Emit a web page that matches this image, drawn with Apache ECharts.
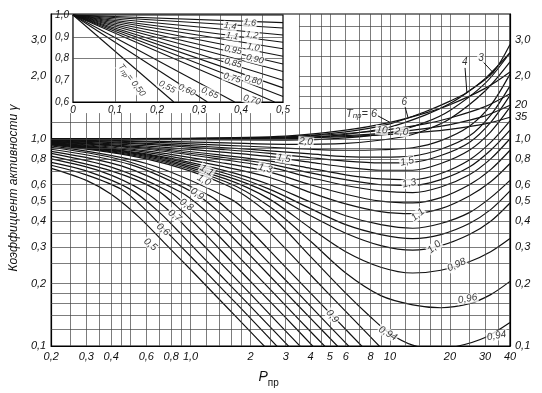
<!DOCTYPE html>
<html><head><meta charset="utf-8">
<script src="https://cdn.jsdelivr.net/npm/echarts@6/dist/echarts.min.js"></script>
<style>html,body{margin:0;padding:0;background:#fff}#c{width:542px;height:393px}</style>
</head><body><div id="c"></div><script>
// ---- tick labels ----
const xTickValues = [0.2,0.3,0.4,0.6,0.8,1,2,3,4,5,6,8,10,20,30,40];
const xTickLabels = ['0,2','0,3','0,4','0,6','0,8','1,0','2','3','4','5','6','8','10','20','30','40'];
const yTickValues = [0.1,0.2,0.3,0.4,0.5,0.6,0.8,1,2,3];
const yTickLabels = ['0,1','0,2','0,3','0,4','0,5','0,6','0,8','1,0','2,0','3,0'];
const rightCurveValues = [1.27,1.45];
const rightCurveLabels = ['35','20'];
const xGrid = [0.25,0.3,0.35,0.4,0.45,0.5,0.6,0.7,0.8,0.9,1,1.2,1.4,1.6,1.8,2,2.5,3,3.5,4,4.5,5,6,7,8,9,10,12,14,16,18,20,25,30,35];
const yGrid = [0.12,0.14,0.16,0.18,0.2,0.25,0.3,0.35,0.4,0.45,0.5,0.6,0.7,0.8,0.9,1,1.2,1.4,1.6,1.8,2,2.5,3,3.5];

// ---- main chart curves: [P_пр, γ] ----
const T050 = [[0.2,0.72],[0.3,0.63],[0.4,0.54],[0.55,0.42],[0.75,0.31],[1,0.234],[1.5,0.156],[2,0.117],[2.6,0.09]];
const T055 = [[0.2,0.745],[0.3,0.67],[0.45,0.57],[0.6,0.45],[0.8,0.338],[1,0.271],[1.5,0.181],[2,0.136],[3,0.09]];
const T060 = [[0.2,0.77],[0.3,0.70],[0.5,0.57],[0.7,0.44],[0.9,0.345],[1.2,0.258],[1.6,0.194],[2.2,0.141],[3.4,0.091]];
const T065 = [[0.2,0.80],[0.35,0.70],[0.58,0.56],[0.8,0.44],[1,0.355],[1.4,0.254],[2,0.178],[3,0.118],[3.8,0.093]];
const T070 = [[0.2,0.825],[0.4,0.70],[0.67,0.57],[0.9,0.45],[1.2,0.342],[1.6,0.256],[2.2,0.186],[3,0.137],[4.4,0.093]];
const T075 = [[0.2,0.85],[0.4,0.73],[0.77,0.56],[1,0.46],[1.3,0.362],[1.8,0.261],[2.5,0.188],[3.5,0.134],[5,0.094]];
const T080 = [[0.2,0.87],[0.45,0.74],[0.9,0.55],[1.2,0.445],[1.5,0.362],[2,0.272],[3,0.181],[4,0.136],[5.8,0.094]];
const T085 = [[0.2,0.89],[0.5,0.75],[1.05,0.545],[1.4,0.44],[1.8,0.346],[2.5,0.249],[3.5,0.178],[5,0.124],[6.6,0.094]];
const T090 = [[0.2,0.91],[0.5,0.77],[1.25,0.53],[1.6,0.44],[2,0.36],[2.8,0.257],[4,0.18],[5.5,0.131],[7.6,0.095]];
const T092 = [[0.2,0.925],[0.6,0.76],[1.6,0.51],[2,0.43],[2.6,0.339],[3.5,0.252],[5,0.176],[7,0.126],[9.3,0.095]];
const T094 = [[0.2,0.935],[0.6,0.80],[1.5,0.60],[2.5,0.43],[4,0.27],[6,0.18],[8,0.138],[10,0.115],[13,0.101],[17,0.097],[22,0.1],[30,0.11],[40,0.13]];
const T096 = [[0.2,0.94],[0.6,0.81],[1.5,0.62],[2.5,0.47],[4,0.32],[6,0.225],[9,0.175],[13,0.158],[18,0.153],[25,0.16],[32,0.177],[40,0.205]];
const T098 = [[0.2,0.945],[0.6,0.82],[1.5,0.64],[2.5,0.51],[4,0.37],[6,0.285],[9,0.24],[13,0.225],[18,0.232],[25,0.255],[32,0.285],[40,0.33]];
const T100 = [[0.2,0.95],[0.6,0.83],[1.5,0.66],[2.5,0.545],[4,0.425],[6,0.35],[9,0.305],[13,0.29],[18,0.305],[25,0.345],[32,0.4],[40,0.49]];
const T102 = [[0.2,0.952],[0.6,0.838],[1.5,0.68],[2.5,0.57],[4,0.46],[6,0.385],[9,0.345],[13,0.33],[18,0.345],[25,0.39],[32,0.455],[40,0.56]];
const T105 = [[0.2,0.955],[0.6,0.845],[1.5,0.70],[2.5,0.60],[4,0.495],[6,0.425],[9,0.385],[13,0.37],[18,0.39],[25,0.44],[32,0.52],[40,0.63]];
const T110 = [[0.2,0.96],[0.6,0.86],[1.5,0.73],[2.5,0.65],[4,0.55],[6,0.485],[9,0.445],[13,0.435],[18,0.46],[25,0.53],[32,0.62],[40,0.76]];
const T115 = [[0.2,0.965],[0.6,0.875],[1.5,0.76],[2.5,0.69],[4,0.60],[6,0.54],[9,0.50],[13,0.49],[18,0.52],[25,0.60],[32,0.71],[40,0.88]];
const T120 = [[0.2,0.97],[0.6,0.89],[1.5,0.79],[2.5,0.73],[4,0.65],[6,0.595],[9,0.56],[13,0.55],[18,0.585],[25,0.67],[32,0.80],[40,1.0]];
const T125 = [[0.2,0.972],[0.6,0.90],[1.5,0.81],[2.5,0.755],[4,0.685],[6,0.635],[9,0.60],[13,0.595],[18,0.635],[25,0.73],[32,0.88],[40,1.1]];
const T130 = [[0.2,0.975],[0.6,0.91],[1.5,0.83],[2.5,0.78],[4,0.72],[6,0.67],[9,0.64],[13,0.635],[18,0.68],[25,0.79],[32,0.96],[40,1.22]];
const T140 = [[0.2,0.98],[0.6,0.925],[1.5,0.86],[2.5,0.82],[4,0.77],[6,0.73],[9,0.705],[13,0.705],[18,0.76],[25,0.88],[32,1.08],[40,1.42]];
const T150 = [[0.2,0.985],[0.6,0.94],[1.5,0.885],[2.5,0.85],[4,0.81],[6,0.78],[9,0.765],[13,0.77],[18,0.83],[25,0.96],[32,1.2],[40,1.62]];
const T160 = [[0.2,0.988],[0.6,0.95],[1.5,0.905],[2.5,0.875],[4,0.845],[6,0.82],[9,0.815],[13,0.825],[18,0.89],[25,1.03],[32,1.3],[40,1.8]];
const T180 = [[0.2,0.99],[0.6,0.965],[1.5,0.93],[2.5,0.91],[4,0.89],[6,0.88],[9,0.885],[13,0.905],[18,0.98],[25,1.15],[32,1.45],[40,2.05]];
const T200 = [[0.2,0.995],[0.6,0.975],[1.5,0.955],[3,0.94],[6,0.95],[11.5,1.02],[15,1.1],[20,1.25],[30,1.7],[40,2.35]];
const T250 = [[0.2,0.998],[1,0.99],[3,0.985],[6,1.01],[10,1.07],[15,1.2],[20,1.37],[30,1.85],[40,2.6]];
const T300 = [[0.2,1.0],[1,0.998],[3,1.0],[6,1.05],[10,1.14],[15,1.3],[20,1.48],[25,1.7],[33,2.1],[40,2.85]];
const T400 = [[0.2,1.0],[1,1.002],[3,1.02],[6,1.08],[10,1.18],[15,1.35],[20,1.52],[24,1.66],[30,1.95],[40,2.6]];
const T600 = [[0.2,1.0],[1,1.005],[3,1.03],[6,1.1],[10,1.2],[15,1.33],[20,1.46],[30,1.75],[40,2.1]];
const T1000 = [[0.2,1.0],[1,1.004],[3,1.02],[6,1.06],[10,1.11],[15,1.18],[20,1.26],[30,1.43],[40,1.65]];
const T2000 = [[0.2,1.0],[1,1.003],[3,1.012],[6,1.035],[10,1.07],[15,1.12],[20,1.17],[30,1.29],[40,1.45]];
const T3500 = [[0.2,1.0],[1,1.002],[3,1.008],[6,1.025],[10,1.05],[15,1.08],[20,1.11],[30,1.18],[40,1.27]];

// ---- inset: straight lines from (0, 1.0) ----
const insetStart = [0, 1.0];
const insetNames = ['0,50','0,55','0,60','0,65','0,70','0,75','0,80','0,85','0,90','0,95','1,0','1,1','1,2','1,4','1,6'];
const insetEnds = [[0.24,0.6],[0.32,0.6],[0.385,0.6],[0.48,0.6],[0.5,0.625],[0.5,0.665],[0.5,0.70],[0.5,0.74],[0.5,0.775],[0.5,0.81],[0.5,0.845],[0.5,0.875],[0.5,0.908],[0.5,0.94],[0.5,0.965]];

// ---- curve labels: [P, γ, text, rotate] ----
const mainLabels = [
  [0.629,0.309,'0,5',-40],[0.728,0.365,'0,6',-40],[0.833,0.425,'0,7',-38],[0.953,0.48,'0,8',-35],
  [1.078,0.541,'0,9',-35],[1.167,0.631,'1,0',-30],[1.206,0.704,'1,1',-30],
  [2.37,0.72,'1,3',-15],[2.93,0.803,'1,5',-10],[3.79,0.968,'2,0',-5],
  [9.11,1.10,'10',-5],[11.4,1.08,'2,0',-5],[12.2,0.777,'1,5',12],[12.5,0.61,'1,3',12],
  [13.8,0.43,'1,1',40],[16.7,0.30,'1,0',40],[21.6,0.246,'0,98',25],[24.5,0.169,'0,96',10],
  [9.75,0.115,'0,94',-30],[34.3,0.112,'0,94',10],[5.14,0.139,'0,9',-50],
  [11.8,1.5,'6',0],[23.7,2.33,'4',0],[28.6,2.46,'3',0]
];
const tLabel6 = [7.2,1.32];
const leaders = [
  [[8.7,1.29],[10,1.2]],[[11.9,1.43],[12.3,1.27]],[[23.8,2.2],[24.3,1.68]],[[29.2,2.36],[33,2.08]]
];
const insetLabels = [
  [0.421,0.965,'1,6',-8],[0.374,0.949,'1,4',-10],[0.426,0.908,'1,2',-10],[0.379,0.903,'1,1',-10],
  [0.429,0.851,'1,0',-12],[0.381,0.839,'0,95',-12],[0.433,0.797,'0,90',-14],[0.381,0.779,'0,85',-14],
  [0.429,0.70,'0,80',-16],[0.379,0.71,'0,75',-16],[0.426,0.609,'0,70',-16],[0.326,0.641,'0,65',-22],
  [0.271,0.655,'0,60',-25],[0.224,0.669,'0,55',-28]
];
const insetT050 = [0.14,0.70];

const mainCurves = [T050,T055,T060,T065,T070,T075,T080,T085,T090,T092,T094,T096,T098,T100,T102,T105,T110,T115,T120,T125,T130,T140,T150,T160,T180,T200,T250,T300,T400,T600,T1000,T2000,T3500];

// inset occlusion limits (data units)
const insetPmax = 3.5, insetGmin = 1.33;

const FF = '"Liberation Sans", "DejaVu Sans", sans-serif';
function lookup(vals, labs, v){ for(let i=0;i<vals.length;i++){ if(Math.abs(vals[i]-v) < 1e-6*Math.max(1,vals[i])) return labs[i]; } return ''; }
const allRightVals = yTickValues.concat(rightCurveValues);
const allRightLabs = yTickLabels.concat(rightCurveLabels);

const series = [];
mainCurves.forEach(d => series.push({
  type:'line', xAxisIndex:0, yAxisIndex:0, data:d, smooth:0.3, symbol:'none', clip:true,
  lineStyle:{color:'#111', width:1.2}, z:3, silent:true
}));

// main grid lines
const segs = [];
xGrid.forEach(p => segs.push([{coord:[p,0.1001]},{coord:[p, p < insetPmax ? insetGmin : 3.999]}]));
yGrid.forEach(g => segs.push([{coord:[g > insetGmin ? insetPmax : 0.2002, g]},{coord:[39.99, g]}]));
leaders.forEach(l => segs.push([{coord:l[0], lineStyle:{width:1, color:'#111'}},{coord:l[1]}]));
series.push({
  type:'line', xAxisIndex:0, yAxisIndex:0, data:[[0.2002,0.1001]], symbol:'none', z:1,
  markLine:{silent:true, symbol:['none','none'], label:{show:false}, animation:false,
    lineStyle:{color:'#444', width:0.7, type:'solid'}, emphasis:{disabled:true}, data:segs}
});

// main labels
const labStyle = {show:true, position:'inside', fontSize:10, fontStyle:'italic', fontFamily:FF, color:'#000', backgroundColor:'#fff', padding:[0,1]};
series.push({
  type:'scatter', xAxisIndex:0, yAxisIndex:0, symbolSize:1, itemStyle:{color:'rgba(0,0,0,0)'}, z:6, silent:true, clip:false,
  label:labStyle,
  data: mainLabels.map(l => ({value:[l[0],l[1]], label:{formatter:l[2], rotate:l[3]}})).concat([{
    value: tLabel6, label:{formatter:'{t|T}{s|пр}{t|= 6}', rotate:0, backgroundColor:'transparent',
      rich:{t:{fontSize:11, fontStyle:'italic', fontFamily:FF}, s:{fontSize:8, fontFamily:FF, padding:[5,0,0,0]}}}
  }])
});

// inset lines
insetEnds.forEach(e => series.push({
  type:'line', xAxisIndex:1, yAxisIndex:2, data:[insetStart, e], symbol:'none', clip:true,
  lineStyle:{color:'#111', width:1.1}, z:4, silent:true
}));
// inset grid lines
const isegs = [];
[0.1,0.15,0.2,0.25,0.3,0.35,0.4,0.45].forEach(x => isegs.push([{coord:[x,0.6]},{coord:[x,1.0]}]));
[0.9,0.8].forEach(y => isegs.push([{coord:[0,y]},{coord:[0.5,y]}]));
series.push({
  type:'line', xAxisIndex:1, yAxisIndex:2, data:[[0,1]], symbol:'none', z:2,
  markLine:{silent:true, symbol:['none','none'], label:{show:false}, animation:false,
    lineStyle:{color:'#444', width:0.7, type:'solid'}, data:isegs}
});
series.push({
  type:'scatter', xAxisIndex:1, yAxisIndex:2, symbolSize:1, itemStyle:{color:'rgba(0,0,0,0)'}, z:6, silent:true, clip:false,
  label:Object.assign({}, labStyle, {fontSize:9}),
  data: insetLabels.map(l => ({value:[l[0],l[1]], label:{formatter:l[2], rotate:l[3]}})).concat([{
    value: insetT050, label:{formatter:'{t|T}{s|пр}{t|= 0,50}', rotate:-52,
      rich:{t:{fontSize:9, fontStyle:'italic', fontFamily:FF}, s:{fontSize:7, fontFamily:FF, padding:[4,0,0,0]}}}
  }])
});

const axLab = {fontSize:11, fontStyle:'italic', fontFamily:FF, color:'#111'};
const option = {
  animation:false,
  backgroundColor:'#fff',
  grid:[
    {left:38, top:14, right:32, bottom:43, show:true, borderColor:'#000', borderWidth:1.2, backgroundColor:'transparent'},
    {left:73, top:15, width:210, height:87, show:true, borderColor:'#000', borderWidth:1.2, backgroundColor:'#fff', z:1}
  ],
  xAxis:[
    {type:'log', gridIndex:0, min:0.2, max:40, logBase:10,
     name:'{p|P}{s|пр}', nameLocation:'middle', nameGap:20,
     nameTextStyle:{padding:[0,24,0,0], rich:{p:{fontSize:14, fontStyle:'italic', fontFamily:FF, color:'#111'}, s:{fontSize:10, fontFamily:FF, color:'#111', padding:[12,0,0,0]}}},
     axisLine:{show:true, lineStyle:{color:'#000', width:1.2}}, axisTick:{show:false}, splitLine:{show:false}, minorSplitLine:{show:false},
     axisLabel:Object.assign({customValues:xTickValues, margin:5, formatter:v=>lookup(xTickValues,xTickLabels,v)}, axLab)},
    {type:'value', gridIndex:1, min:0, max:0.5, interval:0.1,
     axisLine:{show:true, lineStyle:{color:'#000', width:1.2}}, axisTick:{show:false}, splitLine:{show:false},
     axisLabel:Object.assign({}, axLab, {fontSize:10, margin:3, formatter:v=> v===0 ? '0' : v.toFixed(1).replace('.',',')})}
  ],
  yAxis:[
    {type:'log', gridIndex:0, min:0.1, max:4, logBase:10, position:'left',
     name:'Коэффициент активности γ', nameLocation:'middle', nameRotate:90, nameGap:22,
     nameTextStyle:{fontSize:12, fontStyle:'italic', fontFamily:FF, color:'#111', padding:[0,16,0,0]},
     axisLine:{show:true, lineStyle:{color:'#000', width:1.2}}, axisTick:{show:false}, splitLine:{show:false}, minorSplitLine:{show:false},
     axisLabel:Object.assign({customValues:yTickValues, margin:5, formatter:v=>lookup(yTickValues,yTickLabels,v)}, axLab)},
    {type:'log', gridIndex:0, min:0.1, max:4, logBase:10, position:'right',
     axisLine:{show:true, lineStyle:{color:'#000', width:1.2}}, axisTick:{show:false}, splitLine:{show:false},
     axisLabel:Object.assign({customValues:allRightVals, margin:5, formatter:v=>lookup(allRightVals,allRightLabs,v)}, axLab)},
    {type:'value', gridIndex:1, min:0.6, max:1.0, interval:0.1,
     axisLine:{show:true, lineStyle:{color:'#000', width:1.2}}, axisTick:{show:false}, splitLine:{show:false},
     axisLabel:Object.assign({}, axLab, {fontSize:10, margin:4, formatter:v=>v.toFixed(1).replace('.',',')})}
  ],
  series:series
};
const chart = echarts.init(document.getElementById('c'), null, {renderer:'canvas'});
chart.setOption(option);
</script></body></html>
